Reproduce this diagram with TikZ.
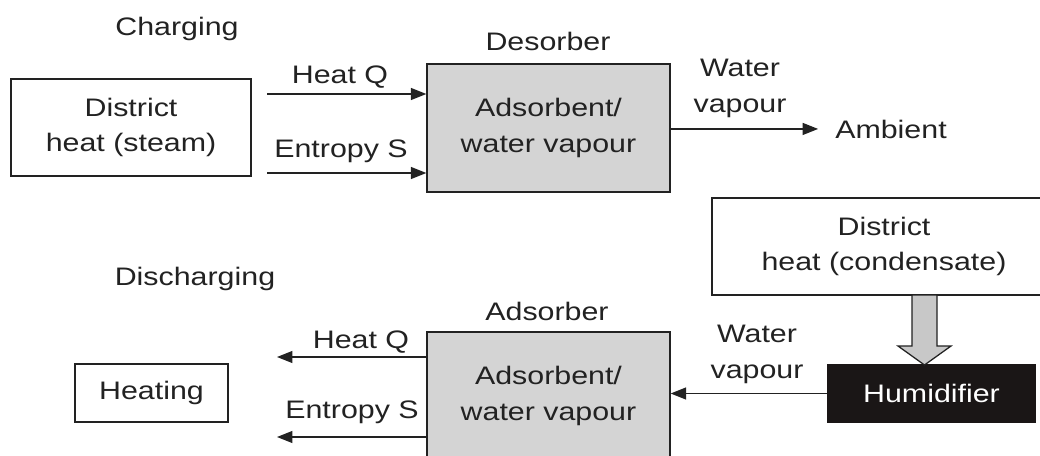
\documentclass[tikz,border=0pt]{standalone}
\usepackage{fontspec}
\setmainfont{Liberation Sans}[FakeStretch=1.2]
\usetikzlibrary{arrows.meta,positioning}

\definecolor{ink}{HTML}{222222}
\definecolor{boxgray}{HTML}{D4D4D4}
\definecolor{blockgray}{HTML}{C8C8C8}
\definecolor{humblack}{HTML}{1A1616}

\tikzset{
  box/.style={draw=ink, line width=0.9pt, align=center, inner sep=0pt},
  sorber/.style={box, fill=boxgray, minimum width=6.075cm, minimum height=3.2cm},
  lbl/.style={text=ink, align=center, inner sep=0pt},
  flow/.style={draw=ink, line width=1pt, -{Triangle[length=11pt,width=8.5pt]}},
}

\begin{document}
\begin{tikzpicture}[x=0.025cm, y=-0.025cm, font=\fontsize{18}{25.5}\selectfont, text=ink]
    \useasboundingbox (0,0) rectangle (1040,455);
    % Charging (top half)
    \node[lbl, anchor=base] (chg) at (177,35) {Charging};
    \node[box, minimum width=6cm, minimum height=2.425cm] (steam) at (131,127.5) {District\\heat (steam)};
    \node[sorber] (des) at (548.5,128) {Adsorbent/\\water vapour};
    \node[lbl, anchor=base] (deslbl) at (548,50) {Desorber};
    \coordinate (hq1) at (267,94);
    \coordinate (es1) at (267,173);
    \draw[flow] (hq1) -- (hq1 -| des.west);
    \draw[flow] (es1) -- (es1 -| des.west);
    \node[lbl, anchor=base] (hq1lbl) at (340,83) {Heat Q};
    \node[lbl, anchor=base] (es1lbl) at (341,157) {Entropy S};
    \node[lbl, anchor=base west] (amb) at (835,138) {Ambient};
    \draw[flow, shorten >=12pt] (des.east |- amb.west) -- (amb.west);
    \node[lbl] (wv1lbl) at (740,88) {Water\\vapour};
    % Discharging (bottom half)
    \node[lbl, anchor=base] (dchg) at (195,285) {Discharging};
    \node[box, minimum width=3.825cm, minimum height=1.45cm] (heat) at (151.5,393) {Heating};
    \node[sorber] (ads) at (548.5,396) {Adsorbent/\\water vapour};
    \node[lbl, anchor=base] (adslbl) at (547,320) {Adsorber};
    \coordinate (hq2) at (277,357);
    \coordinate (es2) at (277,437);
    \draw[flow] (hq2 -| ads.west) -- (hq2);
    \draw[flow] (es2 -| ads.west) -- (es2);
    \node[lbl, anchor=base] (hq2lbl) at (361,348) {Heat Q};
    \node[lbl, anchor=base] (es2lbl) at (352,418) {Entropy S};
    \node[box, minimum width=8.6cm, minimum height=2.425cm] (cond) at (884,246.5) {District\\heat (condensate)};
    \node[box, draw=humblack, fill=humblack, text=white, minimum width=5.175cm, minimum height=1.425cm] (hum) at (931.5,393.5) {Humidifier};
    \draw[flow] (hum.west) -- (hum.west -| ads.east);
    \node[lbl] (wv2lbl) at (757,354) {Water\\vapour};
    % Block arrow from condensate to humidifier
    \draw[draw=ink, line width=0.9pt, fill=blockgray]
        (912,295) -- (912,346) -- (898,346) -- (924.5,365) -- (951,346) -- (937,346) -- (937,295) -- cycle;
\end{tikzpicture}
\end{document}
